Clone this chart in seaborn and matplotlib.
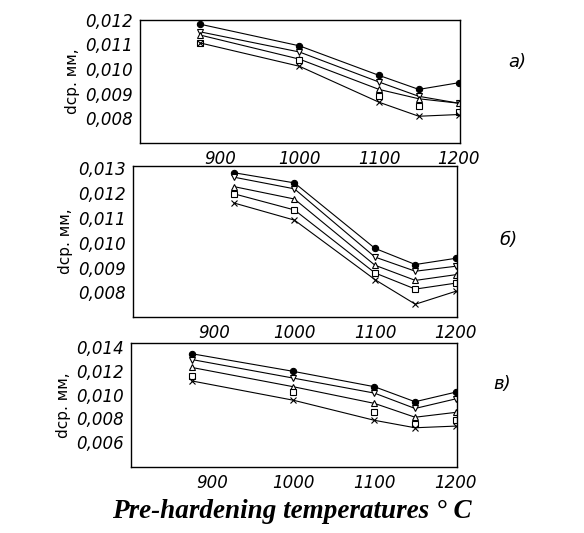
import numpy as np
import pandas as pd
import seaborn as sns
import matplotlib.pyplot as plt

# ---------- DATA ----------

temps_a = [875, 1000, 1100, 1150, 1200]
temps_b = [925, 1000, 1100, 1150, 1200]
temps_c = [875, 1000, 1100, 1150, 1200]

# a)
a_circle = [0.01182, 0.01094, 0.00974, 0.00917, 0.00944]
a_down = [0.01151, 0.01069, 0.00947, 0.00889, 0.00861]
a_up = [0.01138, 0.01040, 0.00917, 0.00879, 0.00861]
a_square = [0.01107, 0.01035, 0.00889, 0.00849, 0.00824]
a_cross = [0.01106, 0.01011, 0.00865, 0.00808, 0.00815]

# б)
b_circle = [0.01282, 0.01241, 0.00977, 0.00912, 0.00937]
b_down = [0.01264, 0.01217, 0.00942, 0.00885, 0.00905]
b_up = [0.01226, 0.01176, 0.00909, 0.00848, 0.00871]
b_square = [0.01197, 0.01132, 0.00878, 0.00813, 0.00837]
b_cross = [0.01160, 0.01091, 0.00851, 0.00752, 0.00804]

# в)
c_circle = [0.01347, 0.01198, 0.01068, 0.00941, 0.01022]
c_down = [0.01298, 0.01141, 0.01014, 0.00884, 0.00965]
c_up = [0.01231, 0.01068, 0.00927, 0.00810, 0.00851]
c_square = [0.01158, 0.01020, 0.00857, 0.00756, 0.00784]
c_cross = [0.01117, 0.00954, 0.00784, 0.00721, 0.00735]

x_ticks = [900, 1000, 1100, 1200]
x_labels = ["900", "1000", "1100", "1200"]

y_ticks_a = [0.008, 0.009, 0.010, 0.011, 0.012]
y_labels_a = ["0,008", "0,009", "0,010", "0,011", "0,012"]
y_ticks_b = [0.008, 0.009, 0.010, 0.011, 0.012, 0.013]
y_labels_b = ["0,008", "0,009", "0,010", "0,011", "0,012", "0,013"]
y_ticks_c = [0.006, 0.008, 0.010, 0.012, 0.014]
y_labels_c = ["0,006", "0,008", "0,010", "0,012", "0,014"]

panel_names = ["а)", "б)", "в)"]
y_title = "dср. мм,"
x_title = "Pre-hardening temperatures ° C"

# ---------- STYLE ----------

sns.set_theme(style="white")
plt.rcParams["font.family"] = ["DejaVu Sans"]
plt.rcParams["text.color"] = "black"
plt.rcParams["axes.labelcolor"] = "black"
plt.rcParams["xtick.color"] = "black"
plt.rcParams["ytick.color"] = "black"

fig = plt.figure(figsize=(5.84, 5.33), dpi=100)

ax_a = fig.add_axes([0.240, 0.732, 0.548, 0.231])
ax_b = fig.add_axes([0.228, 0.405, 0.555, 0.284])
ax_c = fig.add_axes([0.224, 0.124, 0.559, 0.233])

line_kw = dict(color="black", linewidth=0.8, markersize=4.5,
               markeredgecolor="black", markeredgewidth=0.8)


def draw_panel(ax, temps, circle, down, up, square, cross, square_line):

    series = [
        (circle, "o", "black", True),
        (down, "v", "white", True),
        (up, "^", "white", True),
        (square, "s", "white", square_line),
        (cross, "x", "black", True),
    ]

    for values, marker, face, connected in series:

        df = pd.DataFrame({"T": temps, "d": values})

        sns.lineplot(
            data=df,
            x="T",
            y="d",
            marker=marker,
            markerfacecolor=face,
            linestyle="-" if connected else "none",
            ax=ax,
            **line_kw
        )


draw_panel(ax_a, temps_a, a_circle, a_down, a_up, a_square, a_cross, False)
draw_panel(ax_b, temps_b, b_circle, b_down, b_up, b_square, b_cross, True)
draw_panel(ax_c, temps_c, c_circle, c_down, c_up, c_square, c_cross, False)

panels = [
    (ax_a, (0.0070, 0.0120), y_ticks_a, y_labels_a),
    (ax_b, (0.0070, 0.0131), y_ticks_b, y_labels_b),
    (ax_c, (0.0039, 0.0144), y_ticks_c, y_labels_c),
]

for ax, ylim, yt, yl in panels:

    ax.set_xlim(800, 1202)
    ax.set_ylim(*ylim)

    ax.set_xticks(x_ticks)
    ax.set_xticklabels(x_labels, fontstyle="italic", fontsize=12)
    ax.set_yticks(yt)
    ax.set_yticklabels(yl, fontstyle="italic", fontsize=12)

    ax.tick_params(length=0, pad=5)

    ax.set_xlabel("")
    ax.set_ylabel(y_title, fontsize=11, labelpad=4)

    for spine in ax.spines.values():
        spine.set_color("black")
        spine.set_linewidth(1.0)

fig.text(0.870, 0.875, panel_names[0], fontsize=13, fontstyle="italic")
fig.text(0.855, 0.540, panel_names[1], fontsize=13, fontstyle="italic")
fig.text(0.845, 0.270, panel_names[2], fontsize=13, fontstyle="italic")

fig.text(
    0.5,
    0.040,
    x_title,
    ha="center",
    va="center",
    fontsize=19.5,
    fontweight="bold",
    fontstyle="italic",
    family="Liberation Serif"
)

fig.savefig("out.png", dpi=100, facecolor="white")
